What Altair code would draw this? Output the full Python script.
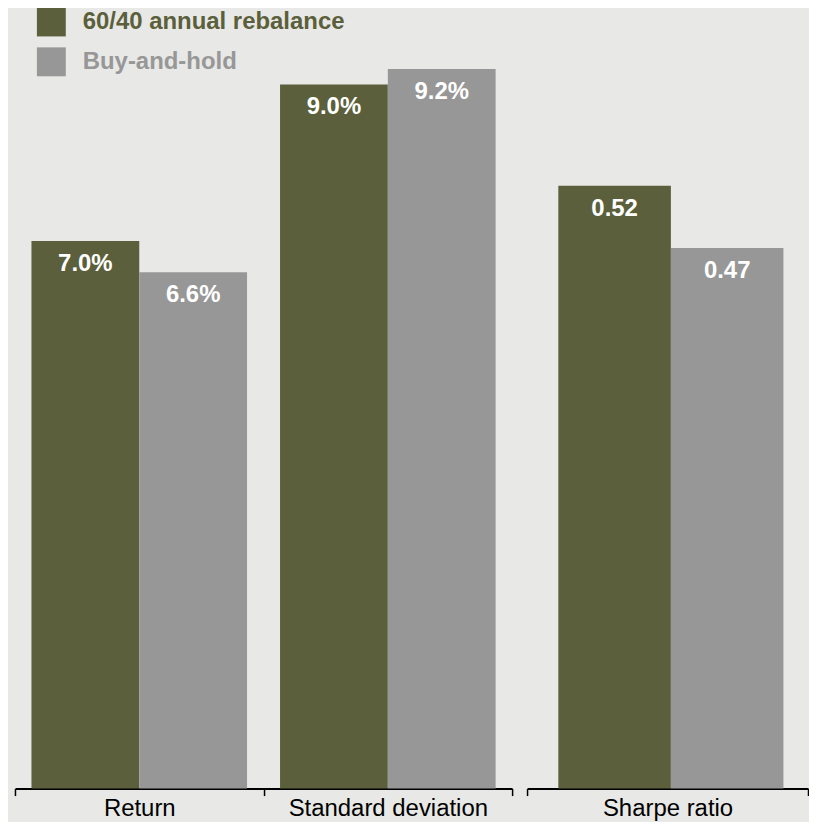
import altair as alt
import pandas as pd

categories = ["Return", "Standard deviation", "Sharpe ratio"]
series = ["60/40 annual rebalance", "Buy-and-hold"]
rebalance = [7.0, 9.0, 0.522]
buy_and_hold = [6.6, 9.2, 0.468]
label_formats = [".1f", ".1f", ".2f"]
label_suffixes = ["%", "%", ""]

GREEN = "#5b5f3b"
GREY = "#979797"
BG = "#e8e8e6"
FONT = "Liberation Sans"
PLOT_H = 782

rows = []
for i, c in enumerate(categories):
    for s, vals in zip(series, [rebalance, buy_and_hold]):
        rows.append({
            "category": c,
            "series": s,
            "value": vals[i],
            "label": format(vals[i], label_formats[i]) + label_suffixes[i],
        })
df = pd.DataFrame(rows)

legend = alt.Legend(
    title=None,
    orient="none",
    legendX=22,
    legendY=-2,
    symbolType="square",
    symbolSize=841,
    symbolStrokeWidth=0,
    symbolOpacity=1,
    labelFontSize=24,
    labelFont=FONT,
    labelFontWeight="bold",
    labelColor=alt.ExprRef(expr=f"datum.value == '{series[0]}' ? '{GREEN}' : '{GREY}'"),
    labelOffset=17,
    rowPadding=11,
    padding=0,
    labelLimit=400,
)


def panel(cats, ymax, width, pad_outer, align):
    sub = df[df["category"].isin(cats)]
    base = alt.Chart(sub).encode(
        x=alt.X(
            "category:N",
            sort=cats,
            title=None,
            scale=alt.Scale(paddingInner=0, paddingOuter=0),
            axis=alt.Axis(
                labelAngle=0,
                tickBand="extent",
                domainColor="black",
                domainWidth=2,
                tickColor="black",
                tickWidth=1.5,
                tickSize=7,
                labelFontSize=24,
                labelFont=FONT,
                labelColor="black",
                labelPadding=1,
                labelLimit=400,
                grid=False,
            ),
        ),
        xOffset=alt.XOffset(
            "series:N", sort=series,
            scale=alt.Scale(paddingInner=0, paddingOuter=pad_outer, align=align),
        ),
        y=alt.Y("value:Q", scale=alt.Scale(domain=[0, ymax], nice=False), axis=None),
    )
    bars = base.mark_bar().encode(
        color=alt.Color(
            "series:N",
            sort=series,
            scale=alt.Scale(domain=series, range=[GREEN, GREY]),
            legend=legend,
        )
    )
    text = base.mark_text(
        baseline="alphabetic",
        dy=30,
        fontSize=24,
        fontWeight="bold",
        font=FONT,
        color="white",
    ).encode(text="label:N")
    return alt.layer(bars, text).properties(width=width, height=PLOT_H)


left = panel(categories[:2], 9.96, 499, 0.153, 0.5)
right = panel(categories[2:], 0.6745, 282, 0.248, 0.56)

chart = (
    alt.hconcat(left, right, spacing=13)
    .resolve_scale(xOffset="independent", y="independent", x="independent")
    .properties(padding={"left": 6, "right": 0, "top": -2, "bottom": 0})
    .configure(background=BG)
    .configure_view(stroke=None)
)

chart.save("out.html", embed_options={"renderer": "svg", "actions": False})
